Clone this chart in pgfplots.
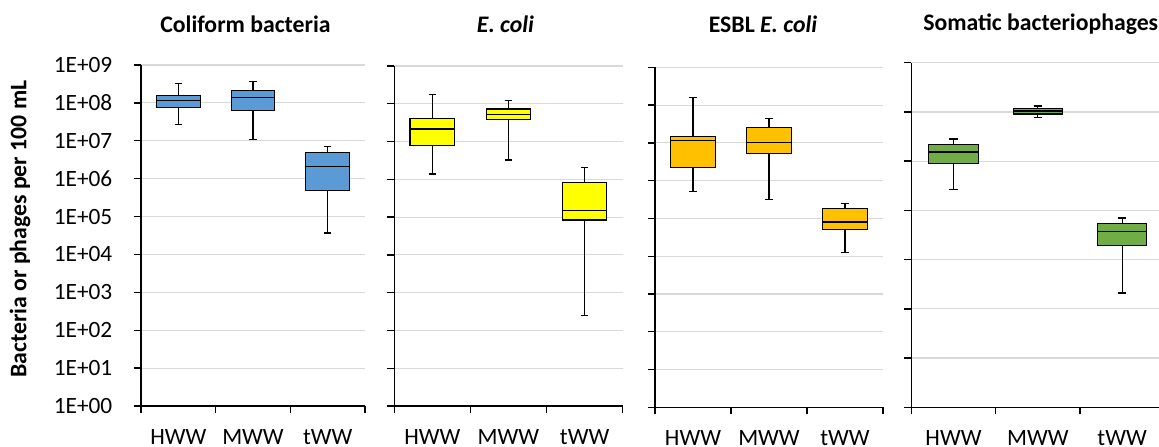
\documentclass[border=0pt]{standalone}
\usepackage{fontspec}
\setmainfont{Carlito}
\usepackage{pgfplots}
\pgfplotsset{compat=1.18}
\usepgfplotslibrary{statistics}

\definecolor{cblue}{HTML}{5B9BD5}
\definecolor{cyel}{HTML}{FFFF00}
\definecolor{corange}{HTML}{FFC000}
\definecolor{cgreen}{HTML}{70AD47}
\definecolor{gridgray}{HTML}{D9D9D9}

% values are log10 of counts per 100 mL
\pgfplotsset{
  panel/.style={
    scale only axis,
    anchor=south west,
    xmin=-0.5, xmax=2.5,
    xtick={-0.5,0.5,1.5,2.5},
    xticklabels={HWW,MWW,tWW},
    x tick label as interval,
    axis x line*=bottom,
    axis y line*=left,
    axis line style={line width=1pt},
    tick align=outside,
    major tick length=5.25pt,
    tick style={black, line width=1pt},
    ymajorgrids,
    major grid style={draw=gridgray, line width=0.9pt},
    tick label style={font=\fontsize{17.5}{20}\selectfont},
    xticklabel style={yshift=-8.5pt},
    yticklabel style={xshift=-12.75pt},
    boxplot/draw direction=y,
    boxplot/box extend=0.585,
    boxplot/whisker extend=0.1,
  },
  bx/.style={draw=black, fill=#1, line width=0.9pt, solid},
}

\begin{document}
\begin{tikzpicture}
\useasboundingbox (0,0) rectangle (869.25pt,334.5pt);

% Coliform bacteria
\begin{axis}[panel, at={(105.75pt,30pt)}, width=168pt, height=255.75pt,
  ymin=0, ymax=9, ytick={0,...,9},
  yticklabels={1E+00,1E+01,1E+02,1E+03,1E+04,1E+05,1E+06,1E+07,1E+08,1E+09}]
\addplot[bx=cblue, boxplot prepared={draw position=0, lower whisker=7.44, lower quartile=7.871, median=8.056, upper quartile=8.196, upper whisker=8.506}] coordinates {};
\addplot[bx=cblue, boxplot prepared={draw position=1, lower whisker=7.025, lower quartile=7.792, median=8.143, upper quartile=8.328, upper whisker=8.566}] coordinates {};
\addplot[bx=cblue, boxplot prepared={draw position=2, lower whisker=4.566, lower quartile=5.695, median=6.33, upper quartile=6.689, upper whisker=6.848}] coordinates {};
\end{axis}

% E. coli
\begin{axis}[panel, at={(295.7pt,30pt)}, width=171.3pt, height=255pt,
  ymin=0, ymax=9, ytick={0,...,9}, yticklabels={}]
\addplot[bx=cyel, boxplot prepared={draw position=0, lower whisker=6.141, lower quartile=6.891, median=7.333, upper quartile=7.606, upper whisker=8.251}] coordinates {};
\addplot[bx=cyel, boxplot prepared={draw position=1, lower whisker=6.512, lower quartile=7.58, median=7.712, upper quartile=7.862, upper whisker=8.091}] coordinates {};
\addplot[bx=cyel, boxplot prepared={draw position=2, lower whisker=2.392, lower quartile=4.924, median=5.17, upper quartile=5.92, upper whisker=6.309}] coordinates {};
\end{axis}

% ESBL E. coli
\begin{axis}[panel, at={(491.25pt,29pt)}, width=171pt, height=255pt,
  ymin=0, ymax=9, ytick={0,...,9}, yticklabels={}]
\addplot[bx=corange, boxplot prepared={draw position=0, lower whisker=5.707, lower quartile=6.353, median=7.057, upper quartile=7.163, upper whisker=8.206}] coordinates {};
\addplot[bx=corange, boxplot prepared={draw position=1, lower whisker=5.506, lower quartile=6.713, median=7.004, upper quartile=7.401, upper whisker=7.65}] coordinates {};
\addplot[bx=corange, boxplot prepared={draw position=2, lower whisker=4.103, lower quartile=4.701, median=4.905, upper quartile=5.268, upper whisker=5.4}] coordinates {};
\end{axis}

% Somatic bacteriophages (runs past the right edge, as in the source)
\begin{axis}[panel, at={(683.5pt,29pt)}, width=189.7pt, height=258.5pt,
  ymin=2, ymax=9, ytick={2,...,9}, yticklabels={}]
\addplot[bx=cgreen, boxplot prepared={draw position=0, lower whisker=6.42, lower quartile=6.948, median=7.186, upper quartile=7.334, upper whisker=7.45}] coordinates {};
\addplot[bx=cgreen, boxplot prepared={draw position=1, lower whisker=7.883, lower quartile=7.958, median=8.019, upper quartile=8.073, upper whisker=8.12}] coordinates {};
\addplot[bx=cgreen, boxplot prepared={draw position=2, lower whisker=4.322, lower quartile=5.283, median=5.574, upper quartile=5.73, upper whisker=5.845}] coordinates {};
\end{axis}

\begin{scope}[every node/.style={font=\fontsize{17.8}{21}\selectfont\bfseries}]
\node at (184.1pt,316.5pt) {Coliform bacteria};
\node at (379.1pt,316.5pt) {\itshape E. coli};
\node at (572.25pt,316.5pt) {ESBL \itshape E. coli};
\node[anchor=west, inner sep=0pt] at (692.25pt,316.5pt) {Somatic bacteriophages};
\node[rotate=90] at (15pt,162.75pt) {Bacteria or phages per 100 mL};
\end{scope}
\end{tikzpicture}
\end{document}
